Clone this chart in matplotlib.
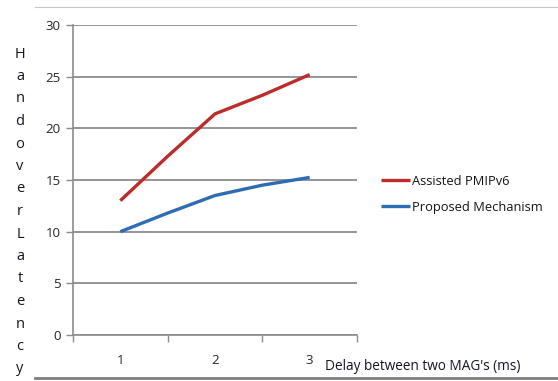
import matplotlib
matplotlib.use("Agg")
import matplotlib.pyplot as plt
from matplotlib.lines import Line2D

plt.rcParams['font.family'] = ['Open Sans', 'DejaVu Sans']

# data
delay = [1, 1.5, 2, 2.5, 3]
assisted = [13.0, 17.3, 21.4, 23.2, 25.2]
proposed = [10.0, 11.8, 13.5, 14.5, 15.25]
y_ticks = [0, 5, 10, 15, 20, 25, 30]
x_labels = ['1', '2', '3']
ylabel = "HandoverLatency"

red = '#BE2B2B'
blue = '#2E6CB6'
grey = '#8C8C8C'

fig = plt.figure(figsize=(5.58, 3.81), dpi=100)
ax = fig.add_axes([0.1308, 0.1207, 0.509, 0.8137])

ax.plot(delay, assisted, color=red, lw=2.4, label='Assisted PMIPv6', solid_capstyle='butt')
ax.plot(delay, proposed, color=blue, lw=2.4, label='Proposed Mechanism', solid_capstyle='butt')

ax.set_xlim(0.5, 3.5)
ax.set_ylim(0, 30)
ax.set_yticks(y_ticks)
ax.set_xticks([1, 2, 3])
ax.set_xticklabels(x_labels)
ax.set_xticks([0.5, 1.5, 2.5, 3.5], minor=True)
ax.tick_params(axis='x', which='major', length=0, pad=14, labelsize=9.5, labelcolor='#262626')
ax.tick_params(axis='x', which='minor', length=5, color=grey, width=1)
ax.tick_params(axis='y', length=5, color=grey, width=1, labelsize=9.5, labelcolor='#262626', pad=4)

ax.yaxis.grid(True, color=grey, lw=1.3)
ax.set_axisbelow(True)
for s in ['top', 'right']:
    ax.spines[s].set_visible(False)
ax.spines['left'].set_color(grey)
ax.spines['bottom'].set_color(grey)
ax.spines['left'].set_linewidth(1.2)
ax.spines['bottom'].set_linewidth(1.2)

# stacked y label
for i, ch in enumerate(ylabel):
    fig.text(20 / 558, 1 - (54 + i * 22.5) / 381, ch, ha='center', va='center',
             fontsize=10.5, color='#141428')

fig.text(325 / 558, 1 - 367 / 381, "Delay between two MAG's (ms)", ha='left', va='center',
         fontsize=9.8, color='#141428')

leg = fig.legend(loc='upper left', bbox_to_anchor=(369 / 558, 1 - 163 / 381), frameon=False,
                 fontsize=9.3, handlelength=2.3, handletextpad=0.15, labelspacing=1.0)
for t in leg.get_texts():
    t.set_color('#141414')

fig.add_artist(Line2D([35 / 558, 1], [1 - 7 / 381] * 2, color='#C8C8C8', lw=0.8))
fig.add_artist(Line2D([35 / 558, 1], [1 - 378 / 381] * 2, color='#7F7F7F', lw=2))

fig.savefig('out.png', dpi=100)
